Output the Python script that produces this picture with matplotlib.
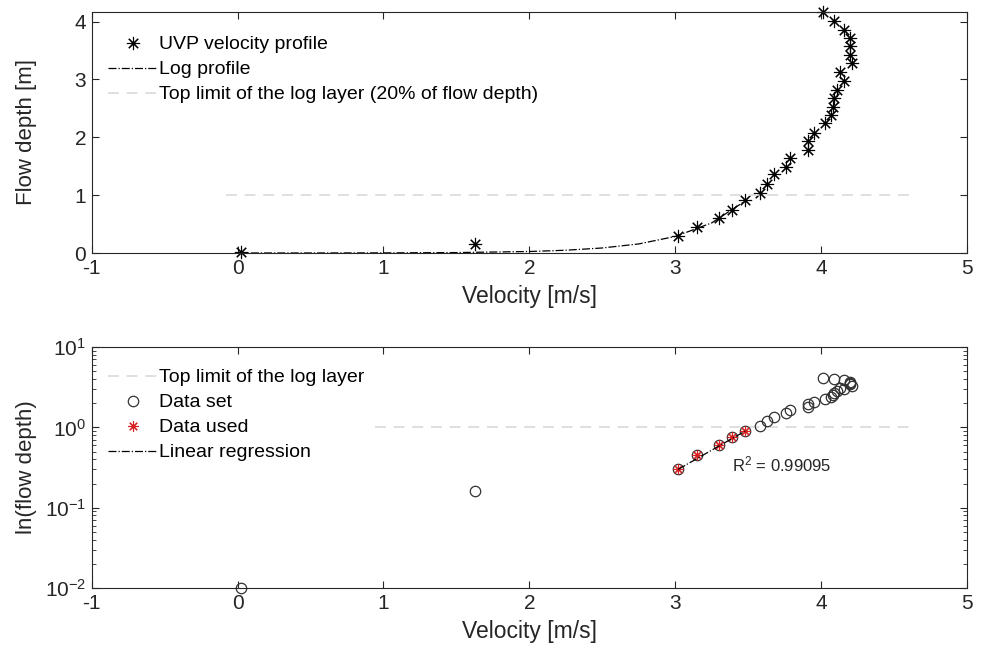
import numpy as np
import matplotlib.pyplot as plt

plt.rcParams['font.family'] = ['Liberation Sans', 'DejaVu Sans']
plt.rcParams['axes.unicode_minus'] = False
plt.rcParams['mathtext.fontset'] = 'custom'
plt.rcParams['mathtext.rm'] = 'Liberation Sans'
plt.rcParams['mathtext.it'] = 'Liberation Sans:italic'

# --- UVP velocity profile ---
velocity = [0.02, 1.63, 3.02, 3.15, 3.30, 3.39, 3.48, 3.58, 3.63, 3.68, 3.76,
            3.79, 3.91, 3.91, 3.95, 4.03, 4.07, 4.08, 4.09, 4.11, 4.16, 4.13,
            4.21, 4.20, 4.20, 4.20, 4.16, 4.09, 4.01]
depth = [0.01, 0.16, 0.30, 0.45, 0.60, 0.75, 0.91, 1.04, 1.20, 1.36, 1.49,
         1.64, 1.78, 1.94, 2.08, 2.24, 2.38, 2.52, 2.68, 2.82, 2.97, 3.12,
         3.28, 3.43, 3.57, 3.72, 3.85, 4.01, 4.17]

# points used for the regression
used_vel = [3.02, 3.15, 3.30, 3.39, 3.48]
used_depth = [0.30, 0.45, 0.60, 0.75, 0.91]

# log profile curve
logprof_vel = [0.0, 0.5, 1.0, 1.5, 2.0, 2.25, 2.5, 2.75, 3.0, 3.25, 3.48]
logprof_depth = [0.0002, 0.0007, 0.0023, 0.0076, 0.026, 0.048, 0.087,
                 0.157, 0.286, 0.52, 0.90]

# linear regression (semilog) end points
reg_vel = [3.02, 3.48]
reg_depth = [0.30, 0.90]

# top limit of log layer
limit_top_x = [-0.08, 4.6]
limit_bot_x = [0.94, 4.6]
limit_y = [1.0, 1.0]

r2_text = 'R$^2$ = 0.99095'

ink = '#262626'
gray = '#d9d9d9'
star = (8, 2, 0)  # MATLAB-like asterisk

fig = plt.figure(figsize=(9.83, 6.57), dpi=100)
ax1 = fig.add_axes([0.0933, 0.6149, 0.8904, 0.3673])
ax2 = fig.add_axes([0.0933, 0.1050, 0.8904, 0.3668])

leg_kw = dict(loc='upper left', frameon=False, fontsize=14, handlelength=2.5,
              handletextpad=0.1, labelspacing=0.38, borderpad=0.4,
              borderaxespad=0)

# --- top: velocity profile ---
ax1.plot(velocity, depth, linestyle='none', marker=star, color='k',
         markersize=9.5, mew=0.8, clip_on=False, label='UVP velocity profile')
ax1.plot(logprof_vel, logprof_depth, '-.', color='k', lw=0.9, label='Log profile')
ax1.plot(limit_top_x, limit_y, '--', color=gray, lw=1.2, dashes=(6.5, 4.7),
         label='Top limit of the log layer (20% of flow depth)')
ax1.set_xlim(-1, 5)
ax1.set_ylim(0, 4.17)
ax1.set_xticks(range(-1, 6))
ax1.set_yticks(range(0, 5))
ax1.set_xlabel('Velocity [m/s]', fontsize=16.5, color=ink, labelpad=5)
ax1.set_ylabel('Flow depth [m]', fontsize=16, color=ink)
ax1.yaxis.set_label_coords(-0.063, 0.5)
ax1.legend(bbox_to_anchor=(0.010, 0.932), **leg_kw)

# --- bottom: semilog ---
ax2.plot(limit_bot_x, limit_y, '--', color=gray, lw=1.2, dashes=(6.5, 4.7),
         label='Top limit of the log layer')
ax2.plot(velocity, depth, linestyle='none', marker='o', mfc='none',
         mec='#333333', markersize=7.5, mew=0.9, clip_on=False, label='Data set')
ax2.plot(used_vel, used_depth, linestyle='none', marker=star, color='#d81e1e',
         markersize=7.5, mew=0.8, label='Data used')
ax2.plot(reg_vel, reg_depth, '-.', color='k', lw=0.9, label='Linear regression')
ax2.set_yscale('log')
ax2.set_xlim(-1, 5)
ax2.set_ylim(0.01, 10)
ax2.set_xticks(range(-1, 6))
ax2.text(3.39, 0.345, r2_text, fontsize=12, color=ink, va='center', ha='left')
ax2.set_xlabel('Velocity [m/s]', fontsize=16.5, color=ink, labelpad=5)
ax2.set_ylabel('ln(flow depth)', fontsize=16, color=ink)
ax2.yaxis.set_label_coords(-0.063, 0.5)
ax2.legend(bbox_to_anchor=(0.010, 0.942), **leg_kw)

for ax in (ax1, ax2):
    ax.tick_params(which='both', direction='in', top=True, right=True,
                   labelsize=15, colors=ink, pad=4)
    ax.tick_params(which='major', length=5)
    ax.tick_params(which='minor', length=3)
    for s in ax.spines.values():
        s.set_color(ink)
        s.set_linewidth(0.8)

fig.savefig('out.png', dpi=100)
